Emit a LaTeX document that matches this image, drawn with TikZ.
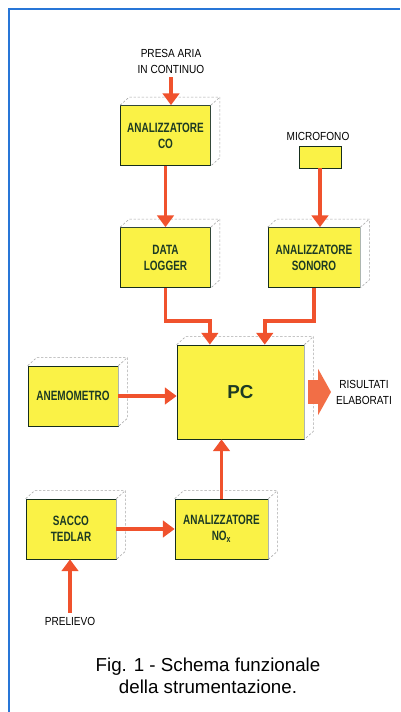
\documentclass[tikz,border=0pt]{standalone}
\usepackage{fontspec}
\setmainfont{Liberation Sans}
\newfontfamily\condfont[FakeStretch=0.74]{Liberation Sans}
\newfontfamily\tagfont[FakeStretch=0.86]{Liberation Sans}
\usepackage{tikz}
\usetikzlibrary{arrows.meta, calc}
\definecolor{boxyellow}{RGB}{250,242,70}
\definecolor{flowred}{RGB}{240,82,45}
\definecolor{textgreen}{RGB}{28,58,36}
\definecolor{frameblue}{RGB}{40,118,215}
\definecolor{outorange}{RGB}{242,110,70}

\begin{document}
\begin{tikzpicture}[
    x=0.3mm, y=-0.3mm,
    unitbox/.style={rectangle, draw=textgreen!80!black, fill=boxyellow, line width=0.6pt, minimum width=27mm, minimum height=18mm, inner sep=0pt, align=center, text=textgreen, font=\condfont\bfseries\fontsize{11.5}{13.6}\selectfont},
    depthface/.style={draw=gray!70, dash pattern=on 2pt off 1.5pt, line width=0.5pt},
    flow/.style={draw=flowred, line width=3.4pt, -{Triangle[width=14pt,length=10pt]}},
    tag/.style={align=center, font=\tagfont\fontsize{10}{13.6}\selectfont, text=black}
  ]
  \useasboundingbox (0,0) rectangle (400,712);

  % Frame
  \draw[frameblue, line width=1.6pt] (9,712) -- (9,9) -- (400,9);

  % Units
  \node[unitbox] (co) at (165.5,135.5) {ANALIZZATORE\\CO};
  \node[unitbox] (logger) at (165.5,257.5) {DATA\\LOGGER};
  \node[unitbox, minimum width=27.6mm] (sonoro) at (314,257.5) {ANALIZZATORE\\SONORO};
  \node[unitbox, minimum width=38.1mm, minimum height=28.2mm, font=\bfseries\fontsize{16}{18}\selectfont] (pc) at (240.5,392) {PC};
  \node[unitbox] (anemo) at (73,396) {ANEMOMETRO};
  \node[unitbox] (sacco) at (71,529) {SACCO\\TEDLAR};
  \node[unitbox, minimum width=27.9mm] (nox) at (221.5,529) {ANALIZZATORE\\NO\textsubscript{x}};
  \node[unitbox, minimum width=12.6mm, minimum height=6.6mm] (mic) at (320,157) {};

  % Top and side faces
  \foreach \n in {co,logger,sonoro,pc,anemo,sacco,nox} {
    \fill[white] (\n.north west) -- ++(9,-8) -- ($(\n.north east)+(9,-8)$) -- ($(\n.south east)+(9,-8)$) -- (\n.south east) -- (\n.north east) -- cycle;
    \draw[depthface] (\n.north west) -- ++(9,-8) -- ($(\n.north east)+(9,-8)$) -- ($(\n.south east)+(9,-8)$) -- (\n.south east);
    \draw[depthface] (\n.north east) -- ++(9,-8);
  }

  % Labels
  \node[tag] (presa) at (171,61) {PRESA ARIA\\IN CONTINUO};
  \node[tag] (miclabel) at (318,136) {MICROFONO};
  \node[tag] (ris) at (364,392) {RISULTATI\\ELABORATI};
  \node[tag] (prelievo) at (70,621) {PRELIEVO};
  \coordinate (resout) at (331,392);

  % Flows
  \draw[flow] (presa.south) -- (presa.south |- co.north);
  \draw[flow] (co.south) -- (logger.north);
  \draw[flow] (mic.south) -- (mic.south |- sonoro.north);
  \draw[flow] (logger.south) -- ++(0,33) -| ($(pc.north west)!0.26!(pc.north east)$);
  \draw[flow] (sonoro.south) -- ++(0,33) -| ($(pc.north west)!0.69!(pc.north east)$);
  \draw[flow] (anemo.east) -- (anemo.east -| pc.west);
  \draw[flow] (nox.north) -- (nox.north |- pc.south);
  \draw[flow] (sacco.east) -- (nox.west);
  \draw[flow] (prelievo.north) -- (prelievo.north |- sacco.south);
  \draw[outorange, line width=21pt, -{Triangle[width=39pt,length=11pt]}] ($(pc.east)+(4,0)$) -- (resout);

  \node[font=\fontsize{16}{18.7}\selectfont, align=center] (caption) at (208,676) {Fig. 1 - Schema funzionale\\della strumentazione.};
\end{tikzpicture}
\end{document}
